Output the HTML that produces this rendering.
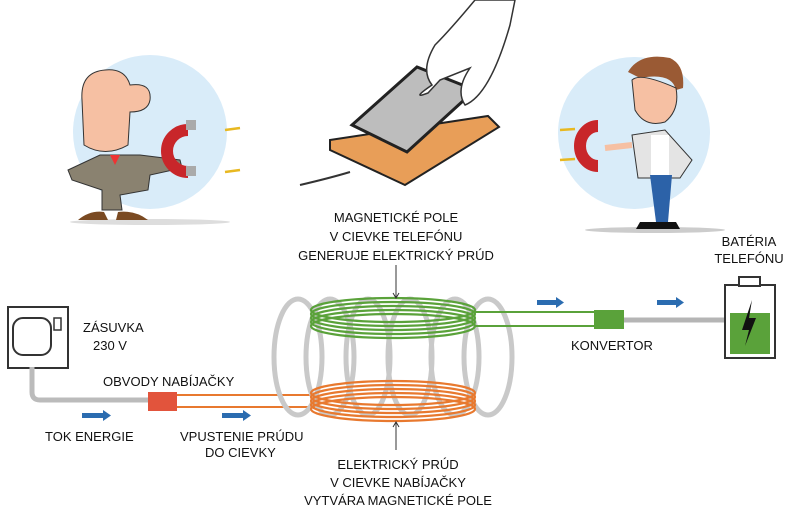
<!DOCTYPE html>
<html><head><meta charset="utf-8"><style>
html,body{margin:0;padding:0;background:#fff;width:788px;height:519px;overflow:hidden}
svg text{font-family:"Liberation Sans",sans-serif;font-size:13px;fill:#111}
</style></head><body>
<svg width="788" height="519" viewBox="0 0 788 519" xmlns="http://www.w3.org/2000/svg">
<!-- cartoon areas -->
<circle cx="150" cy="132" r="77" fill="#d9ecf9"/>
<circle cx="634" cy="133" r="76" fill="#d9ecf9"/>
<!-- left man -->
<ellipse cx="150" cy="222" rx="80" ry="3" fill="#ddd"/>
<path d="M68 170 L100 155 L140 155 L180 160 L182 168 L150 175 L148 190 L120 195 L122 210 L102 210 L102 190 L72 180Z" fill="#8a8270" stroke="#333"/>
<path d="M78 220 Q90 210 104 212 L108 220Z M118 212 Q135 210 148 220 L116 220Z" fill="#7a4a22"/>
<path d="M82 100 Q80 72 105 70 Q125 68 130 85 Q152 82 150 100 Q148 112 130 112 L128 145 Q105 158 84 145 Z" fill="#f6c0a3" stroke="#333"/>
<path d="M110 155 L115 165 L120 155Z" fill="#e33"/>
<path d="M188 130 a20 20 0 1 0 0 42" stroke="#c8262a" stroke-width="12" fill="none"/>
<rect x="186" y="120" width="10" height="10" fill="#aaa"/><rect x="186" y="166" width="10" height="10" fill="#aaa"/>
<path d="M225 130 L240 128 M225 172 L240 170" stroke="#e8b820" stroke-width="2.5"/>
<!-- right man -->
<ellipse cx="655" cy="230" rx="70" ry="3" fill="#ccc"/>
<path d="M628 72 Q640 52 670 58 Q685 65 683 88 L676 90 Q672 72 640 78Z" fill="#9a5a34"/>
<path d="M632 80 Q640 72 676 88 Q680 110 665 122 Q645 128 635 110Z" fill="#f6c0a3" stroke="#333"/>
<path d="M632 135 L665 130 L692 160 L680 178 L638 178Z" fill="#e4e4e4" stroke="#333"/>
<rect x="651" y="135" width="18" height="40" fill="#fff"/>
<path d="M650 175 H672 L668 222 H660 L656 222Z" fill="#2c62a8"/>
<path d="M640 222 H676 L680 229 H636Z" fill="#111"/>
<path d="M605 148 L632 145" stroke="#f6c0a3" stroke-width="6"/>
<path d="M578 126 a18 20 0 1 0 0 40" stroke="#c8262a" stroke-width="12" fill="none" transform="translate(20 0) scale(1 1)"/>
<path d="M560 130 L575 129 M560 160 L575 159" stroke="#e8b820" stroke-width="2.5"/>
<!-- pad & phone -->
<path d="M330 140 L488 116 L499 127 L405 185 L330 150 Z" fill="#e89e58" stroke="#222" stroke-width="2"/>
<path d="M352 125 L417 67 L475 90 L407 152 Z" fill="#bdbdbd" stroke="#222" stroke-width="3"/>
<path d="M300 185 Q330 178 350 172" stroke="#333" stroke-width="2" fill="none"/>
<path d="M475 0 Q450 30 435 45 Q420 70 432 85 Q410 100 428 93 L440 80 Q460 72 470 68 Q455 90 465 105 Q490 95 510 25 L515 0Z" fill="#fff" stroke="#333" stroke-width="1.5"/>
<!-- socket -->
<rect x="8" y="307" width="60" height="61" fill="#fff" stroke="#333" stroke-width="2"/>
<rect x="13" y="318" width="38" height="37" rx="10" fill="#fff" stroke="#333" stroke-width="2"/>
<rect x="54" y="318" width="7" height="12" fill="#fff" stroke="#333" stroke-width="1.5"/>
<path d="M32 367 V392 Q32 400 40 400 H150" stroke="#bbb" stroke-width="5" fill="none"/>
<rect x="148" y="392" width="29" height="19" fill="#e2543c"/>
<path d="M177 395 H315 M177 407 H315" stroke="#e8792f" stroke-width="2"/>
<!-- grey loops -->
<g fill="none" stroke="#c9c9c9" stroke-width="5">
<ellipse cx="298" cy="357" rx="24" ry="58"/>
<ellipse cx="330" cy="357" rx="24" ry="58"/>
<ellipse cx="368" cy="357" rx="22" ry="58"/>
<ellipse cx="410" cy="357" rx="22" ry="58"/>
<ellipse cx="455" cy="357" rx="24" ry="58"/>
<ellipse cx="488" cy="357" rx="24" ry="58"/>
</g>
<!-- green coil -->
<g fill="none" stroke="#5aa23a" stroke-width="2.2">
<ellipse cx="393" cy="310" rx="82" ry="12"/>
<ellipse cx="393" cy="314" rx="82" ry="12"/>
<ellipse cx="393" cy="318" rx="82" ry="12"/>
<ellipse cx="393" cy="322" rx="82" ry="12"/>
<ellipse cx="393" cy="326" rx="82" ry="12"/>
</g>
<path d="M474 312 H596 M474 326 H596" stroke="#5aa23a" stroke-width="2"/>
<!-- orange coil -->
<g fill="none" stroke="#e8792f" stroke-width="2.2">
<ellipse cx="393" cy="393" rx="82" ry="12"/>
<ellipse cx="393" cy="397" rx="82" ry="12"/>
<ellipse cx="393" cy="401" rx="82" ry="12"/>
<ellipse cx="393" cy="405" rx="82" ry="12"/>
<ellipse cx="393" cy="409" rx="82" ry="12"/>
</g>
<!-- pointer arrows -->
<path d="M396 265 V297" stroke="#333" stroke-width="1"/>
<path d="M393 293 L396 298 L399 293" stroke="#333" fill="none"/>
<path d="M396 450 V423" stroke="#333" stroke-width="1"/>
<path d="M393 427 L396 422 L399 427" stroke="#333" fill="none"/>
<!-- converter & battery -->
<rect x="594" y="310" width="30" height="19" fill="#5aa23a"/>
<path d="M624 320 H726" stroke="#b5b5b5" stroke-width="5"/>
<rect x="725" y="285" width="50" height="73" fill="#fff" stroke="#333" stroke-width="2"/>
<rect x="739" y="277" width="21" height="9" fill="#fff" stroke="#333" stroke-width="2"/>
<rect x="730" y="313" width="40" height="41" fill="#5aa23a"/>
<path d="M752 300 L742 330 L749 330 L745 346 L756 318 L749 318 Z" fill="#111"/>
<!-- blue arrows -->
<g fill="#2b6cb0">
<path d="M82 413 H103 V410 L111 415.5 L103 421 V418 H82Z"/>
<path d="M222 413 H243 V410 L251 415.5 L243 421 V418 H222Z"/>
<path d="M537 300 H556 V297 L564 302.5 L556 308 V305 H537Z"/>
<path d="M657 300 H676 V297 L684 302.5 L676 308 V305 H657Z"/>
</g>
<!-- labels -->
<text x="83" y="332">ZÁSUVKA</text>
<text x="93" y="350">230 V</text>
<text x="103" y="386">OBVODY NABÍJAČKY</text>
<text x="45" y="441">TOK ENERGIE</text>
<text x="180" y="441">VPUSTENIE PRÚDU</text>
<text x="205" y="457">DO CIEVKY</text>
<g text-anchor="middle">
<text x="396" y="222">MAGNETICKÉ POLE</text>
<text x="396" y="241">V CIEVKE TELEFÓNU</text>
<text x="396" y="260">GENERUJE ELEKTRICKÝ PRÚD</text>
<text x="398" y="469">ELEKTRICKÝ PRÚD</text>
<text x="398" y="487">V CIEVKE NABÍJAČKY</text>
<text x="398" y="505">VYTVÁRA MAGNETICKÉ POLE</text>
<text x="749" y="246">BATÉRIA</text>
<text x="749" y="263">TELEFÓNU</text>
</g>
<text x="571" y="350">KONVERTOR</text>
</svg>
</body></html>
